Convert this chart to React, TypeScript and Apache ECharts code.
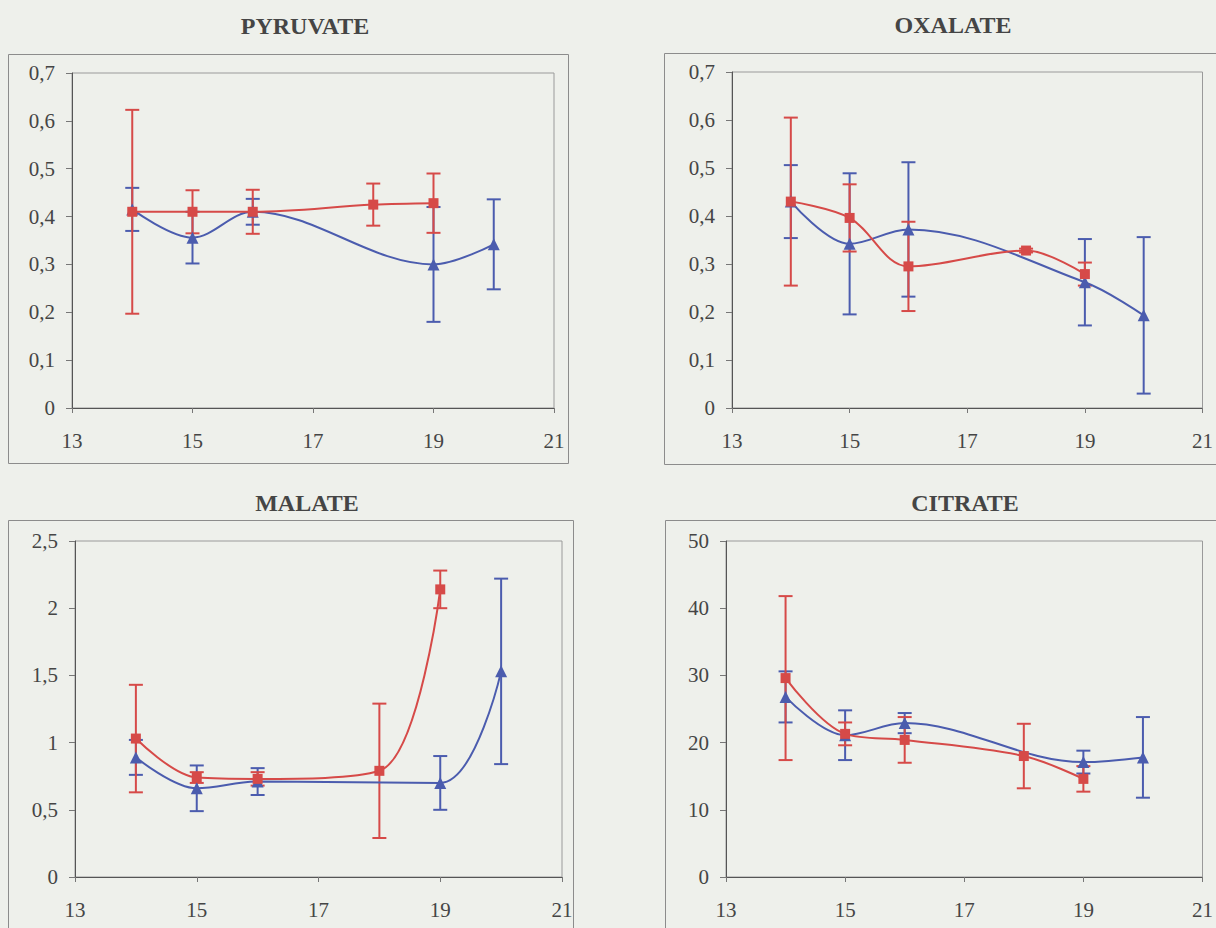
import React, { useEffect, useRef } from "react";
import * as echarts from "echarts";

// ---------- DATA ----------
const titles = ["PYRUVATE", "OXALATE", "MALATE", "CITRATE"];
const xTicks = [13, 15, 17, 19, 21];

const redX = [14, 15, 16, 18, 19];
const blueX = [14, 15, 16, 19, 20];

// PYRUVATE
const pyrRed = [0.41, 0.41, 0.41, 0.425, 0.428];
const pyrRedErr = [0.213, 0.045, 0.046, 0.044, 0.062];
const pyrBlue = [0.415, 0.356, 0.41, 0.3, 0.342];
const pyrBlueErr = [0.045, 0.054, 0.027, 0.12, 0.094];

// OXALATE
const oxaRed = [0.43, 0.396, 0.295, 0.328, 0.279];
const oxaRedErr = [0.175, 0.07, 0.093, 0.004, 0.024];
const oxaBlue = [0.43, 0.342, 0.372, 0.262, 0.193];
const oxaBlueErr = [0.076, 0.147, 0.14, 0.09, 0.163];

// MALATE
const malRed = [1.03, 0.74, 0.73, 0.79, 2.14];
const malRedErr = [0.4, 0.04, 0.05, 0.5, 0.14];
const malBlue = [0.89, 0.66, 0.71, 0.7, 1.53];
const malBlueErr = [0.13, 0.17, 0.1, 0.2, 0.69];

// CITRATE
const citRed = [29.6, 21.3, 20.4, 18.0, 14.6];
const citRedErr = [12.2, 1.7, 3.4, 4.8, 1.9];
const citBlue = [26.8, 21.1, 22.9, 17.1, 17.8];
const citBlueErr = [3.8, 3.7, 1.5, 1.7, 6.0];

const yMax = [0.7, 0.7, 2.5, 50];
const yInterval = [0.1, 0.1, 0.5, 10];

// ---------- STYLE ----------
const RED = "#d64a48";
const BLUE = "#4b5cae";
const BG = "#eef0eb";
const TEXT = "#454545";
const FONT = "Liberation Serif";

const grids = [
  { left: 72, top: 73, width: 482, height: 335 },
  { left: 732, top: 72, width: 479, height: 336 },
  { left: 75, top: 541, width: 487, height: 336 },
  { left: 726, top: 541, width: 484, height: 336 },
];
const titlePos = [
  [305, 26],
  [953, 25],
  [307, 503],
  [965, 503],
];
const boxes = [
  { x: 8.5, y: 54.5, width: 560, height: 409 },
  { x: 664.5, y: 53.5, width: 600, height: 411 },
  { x: 8.5, y: 520.5, width: 565, height: 450 },
  { x: 665.5, y: 520.5, width: 600, height: 450 },
];

const panels = [
  { red: pyrRed, redErr: pyrRedErr, blue: pyrBlue, blueErr: pyrBlueErr },
  { red: oxaRed, redErr: oxaRedErr, blue: oxaBlue, blueErr: oxaBlueErr },
  { red: malRed, redErr: malRedErr, blue: malBlue, blueErr: malBlueErr },
  { red: citRed, redErr: citRedErr, blue: citBlue, blueErr: citBlueErr },
];

const fmt = (v: number) => String(Math.round(v * 100) / 100).replace(".", ",");

function errorSeries(idx: number, xs: number[], ys: number[], errs: number[], color: string) {
  return {
    type: "custom",
    xAxisIndex: idx,
    yAxisIndex: idx,
    z: 3,
    silent: true,
    data: xs.map((x, i) => [x, ys[i] - errs[i], ys[i] + errs[i]]),
    renderItem: (params: any, api: any) => {
      const x = api.value(0);
      const lo = api.coord([x, api.value(1)]);
      const hi = api.coord([x, api.value(2)]);
      const hw = 7;
      const st = { stroke: color, lineWidth: 2 };
      return {
        type: "group",
        children: [
          { type: "line", shape: { x1: lo[0], y1: lo[1], x2: hi[0], y2: hi[1] }, style: st },
          { type: "line", shape: { x1: hi[0] - hw, y1: hi[1], x2: hi[0] + hw, y2: hi[1] }, style: st },
          { type: "line", shape: { x1: lo[0] - hw, y1: lo[1], x2: lo[0] + hw, y2: lo[1] }, style: st },
        ],
      };
    },
  };
}

function lineSeries(idx: number, xs: number[], ys: number[], color: string, symbol: string, name: string) {
  return {
    type: "line",
    name,
    xAxisIndex: idx,
    yAxisIndex: idx,
    z: 4,
    smooth: 0.35,
    data: xs.map((x, i) => [x, ys[i]]),
    symbol,
    symbolSize: symbol === "triangle" ? 12 : 10,
    lineStyle: { color, width: 2 },
    itemStyle: { color },
  };
}

export default function App() {
  const ref = useRef<HTMLDivElement>(null);
  useEffect(() => {
    if (!ref.current) return;
    const chart = echarts.init(ref.current, null, { renderer: "svg" });
    const labelStyle = { color: TEXT, fontFamily: FONT, fontSize: 21 };
    const xAxis = grids.map((_, i) => ({
      type: "value",
      gridIndex: i,
      min: xTicks[0],
      max: xTicks[xTicks.length - 1],
      interval: 2,
      axisLine: { show: true, onZero: false, lineStyle: { color: "#555", width: 1 } },
      axisTick: { show: true, length: 5, lineStyle: { color: "#777" } },
      axisLabel: { ...labelStyle, margin: 22 },
      splitLine: { show: false },
    }));
    const yAxis = grids.map((_, i) => ({
      type: "value",
      gridIndex: i,
      min: 0,
      max: yMax[i],
      interval: yInterval[i],
      axisLine: { show: true, onZero: false, lineStyle: { color: "#555", width: 1 } },
      axisTick: { show: true, length: 6, lineStyle: { color: "#777" } },
      axisLabel: { ...labelStyle, margin: 17, formatter: fmt },
      splitLine: { show: false },
    }));
    const series: any[] = [];
    panels.forEach((p, i) => {
      series.push(errorSeries(i, blueX, p.blue, p.blueErr, BLUE));
      series.push(errorSeries(i, redX, p.red, p.redErr, RED));
      series.push(lineSeries(i, blueX, p.blue, BLUE, "triangle", "blue"));
      series.push(lineSeries(i, redX, p.red, RED, "rect", "red"));
    });
    const graphic: any[] = [];
    boxes.forEach((b) =>
      graphic.push({
        type: "rect",
        z: -10,
        shape: b,
        style: { fill: "none", stroke: "#8c8c8c", lineWidth: 1 },
      })
    );
    titles.forEach((t, i) =>
      graphic.push({
        type: "text",
        x: titlePos[i][0],
        y: titlePos[i][1],
        style: {
          text: t,
          textAlign: "center",
          textVerticalAlign: "middle",
          fontFamily: FONT,
          fontWeight: "bold",
          fontSize: 24,
          fill: TEXT,
        },
      })
    );
    chart.setOption({
      animation: false,
      backgroundColor: BG,
      textStyle: { fontFamily: FONT },
      grid: grids.map((g) => ({ ...g, show: true, borderColor: "#9a9a9a", borderWidth: 1, backgroundColor: "transparent" })),
      xAxis,
      yAxis,
      series,
      graphic,
    });
    return () => chart.dispose();
  }, []);
  return (
    <div
      ref={ref}
      style={{ position: "absolute", left: 0, top: 0, width: 1216, height: 928, background: BG }}
    />
  );
}
